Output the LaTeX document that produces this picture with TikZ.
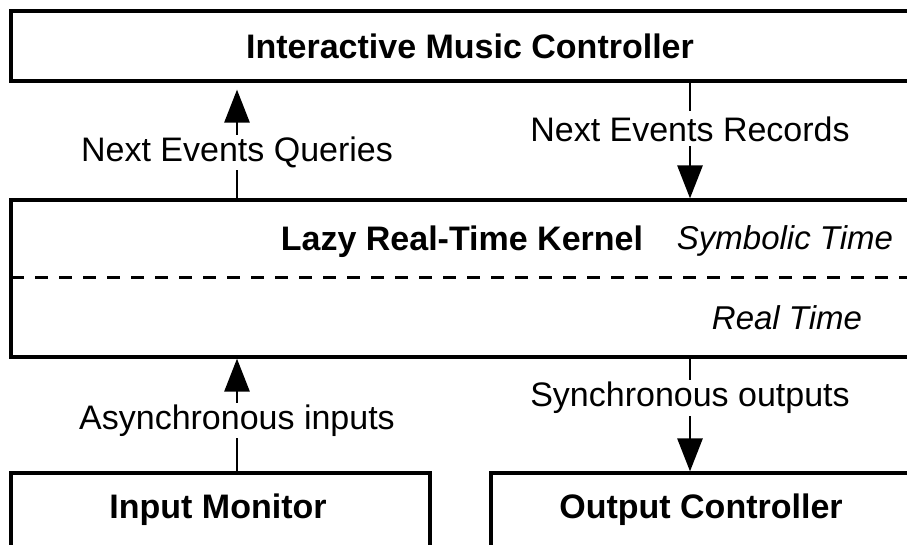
\documentclass[tikz,border=0pt]{standalone}
\usepackage{fontspec}
\setmainfont{Liberation Sans}
\usetikzlibrary{arrows.meta}
\begin{document}
\begin{tikzpicture}[x=1pt,y=-1pt,
  box/.style={draw,line width=3.2pt,rectangle,inner sep=0pt},
  title/.style={font=\fontsize{34}{40}\selectfont\bfseries},
  lbl/.style={fill=white,inner sep=2pt,font=\fontsize{34}{40}\selectfont},
  tag/.style={font=\fontsize{33}{40}\selectfont\itshape,inner sep=0pt},
  arr/.style={line width=2.8pt,-{Triangle[length=33pt,width=25pt]}}]
\useasboundingbox (0,0) rectangle (907,544);
% boxes
\node[box,minimum width=918pt,minimum height=70pt] (imc) at (470,46) {};
\node[title] (imct) at (470,46) {Interactive Music Controller};
\node[box,minimum width=918pt,minimum height=157pt] (lrk) at (470,278.5) {};
\node[title] (lrkt) at (462,242) {Lazy Real-Time Kernel};
\node[tag] (sym) at (785,241) {Symbolic Time};
\node[tag] (rt) at (787,318) {Real Time};
\coordinate (dl) at (11,277);
\draw[line width=3pt,dash pattern=on 13pt off 11pt] (dl) -- (dl -| lrk.east);
\node[box,minimum width=419pt,minimum height=74pt] (im) at (220.5,510) {};
\node[title] (imt) at (218,510) {Input Monitor};
\node[box,minimum width=420pt,minimum height=74pt] (oc) at (701,510) {};
\node[title] (oct) at (701,510) {Output Controller};
% arrow columns
\coordinate (xl) at (237,0);
\coordinate (xr) at (690,0);
\draw[arr,shorten >=7pt] (lrk.north -| xl) -- (imc.south -| xl)
  node[lbl,pos=0.40] (q) {Next Events Queries};
\draw[arr] (imc.south -| xr) -- (lrk.north -| xr)
  node[lbl,pos=0.40,inner ysep=5pt] (r) {Next Events Records};
\draw[arr] (im.north -| xl) -- (lrk.south -| xl)
  node[lbl,pos=0.45] (a) {Asynchronous inputs};
\draw[arr] (lrk.south -| xr) -- (oc.north -| xr)
  node[lbl,pos=0.35] (s) {Synchronous outputs};
\end{tikzpicture}
\end{document}
